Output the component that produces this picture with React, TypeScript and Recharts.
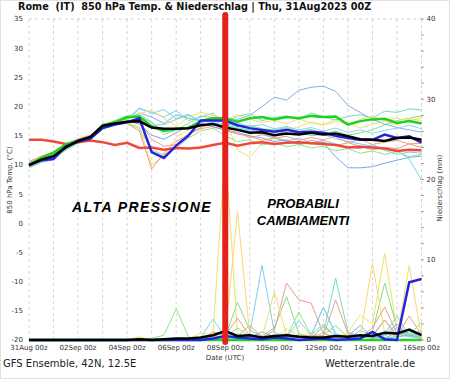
import { LineChart, Line, XAxis, YAxis, CartesianGrid, ReferenceLine } from "recharts";

// forecast hours, every 12h from 31Aug 00z
const HOURS = [0, 12, 24, 36, 48, 60, 72, 84, 96, 108, 120, 132, 144, 156, 168, 180, 192, 204, 216, 228, 240, 252, 264, 276, 288, 300, 312, 324, 336, 348, 360, 372, 384];
const DAY_TICKS = [0, 24, 48, 72, 96, 120, 144, 168, 192, 216, 240, 264, 288, 312, 336, 360, 384];
const DAY_LABELS = ["31Aug 00z", "", "02Sep 00z", "", "04Sep 00z", "", "06Sep 00z", "", "08Sep 00z", "", "10Sep 00z", "", "12Sep 00z", "", "14Sep 00z", "", "16Sep 00z"];
const TEMP_TICKS = [-20, -15, -10, -5, 0, 5, 10, 15, 20, 25, 30, 35];
const PREC_TICKS = [0, 2, 4, 6, 8, 10, 12, 14, 16, 18, 20, 22, 24, 26, 28, 30, 32, 34, 36, 38, 40];

// thick lines: 850 hPa temperature
const tMean = [9.9, 10.9, 11.5, 13.0, 14.1, 14.8, 16.7, 17.1, 17.4, 17.5, 16.4, 16.2, 16.2, 16.3, 16.8, 17.0, 16.4, 16.0, 15.5, 15.6, 15.1, 15.4, 15.2, 15.5, 15.2, 15.4, 14.9, 14.4, 14.3, 14.1, 14.6, 14.7, 14.3];
const tControl = [10.0, 11.2, 12.1, 13.5, 14.2, 14.7, 16.8, 17.3, 18.2, 18.3, 16.6, 15.8, 16.2, 16.3, 17.5, 18.0, 18.0, 17.4, 18.0, 18.2, 17.8, 18.2, 18.0, 18.4, 18.2, 18.3, 16.9, 17.5, 17.8, 17.9, 17.2, 17.5, 17.1];
const tOper = [10.0, 10.8, 11.0, 13.2, 14.0, 14.5, 16.3, 16.9, 17.3, 18.0, 12.2, 11.2, 13.3, 15.0, 17.6, 17.6, 17.6, 16.8, 16.3, 16.0, 15.7, 16.0, 15.6, 15.7, 15.5, 15.0, 14.6, 14.3, 14.3, 15.2, 14.6, 14.9, 13.8];
const tClim = [14.3, 14.3, 14.0, 13.6, 13.9, 14.2, 13.9, 13.4, 13.8, 12.9, 13.0, 12.6, 12.9, 12.8, 13.0, 13.4, 13.8, 13.3, 13.7, 13.9, 13.6, 13.8, 13.9, 13.7, 13.6, 13.4, 13.0, 13.1, 13.0, 12.8, 12.4, 12.6, 12.5];

// ensemble members: temperature
const tM1 = [9.5, 10.4, 10.9, 12.6, 13.8, 14.5, 16.2, 16.8, 17.6, 19.6, 19.0, 18.2, 19.3, 17.6, 18.2, 18.9, 17.0, 16.2, 15.8, 15.2, 14.8, 14.1, 14.6, 13.8, 14.2, 13.6, 13.0, 12.8, 13.5, 12.5, 11.8, 12.2, 12.0];
const tM2 = [10.2, 11.0, 12.0, 13.4, 14.3, 14.9, 16.9, 17.4, 18.0, 18.6, 17.4, 15.2, 16.0, 17.1, 18.4, 18.0, 17.2, 16.5, 16.8, 16.2, 16.0, 16.4, 15.7, 16.1, 15.3, 15.8, 15.1, 15.5, 16.0, 16.9, 17.6, 18.0, 18.4];
const tM3 = [10.1, 10.8, 11.6, 12.8, 14.0, 14.6, 16.4, 17.0, 17.2, 16.5, 10.0, 11.5, 14.8, 16.0, 17.5, 18.6, 17.8, 12.5, 11.4, 13.6, 14.7, 15.8, 16.6, 17.3, 16.9, 17.8, 17.2, 16.3, 17.0, 17.5, 16.8, 17.9, 17.6];
const tM4 = [10.4, 11.3, 11.8, 13.1, 14.2, 14.7, 16.5, 17.0, 17.1, 15.8, 9.3, 12.0, 14.0, 15.2, 16.2, 16.6, 15.9, 15.3, 14.9, 14.2, 14.6, 14.0, 13.6, 14.2, 13.9, 13.3, 13.8, 13.2, 12.6, 13.0, 12.8, 13.6, 13.0];
const tM5 = [9.8, 10.7, 11.3, 12.9, 14.0, 14.6, 16.6, 17.2, 17.8, 18.9, 18.2, 17.1, 18.6, 18.0, 17.5, 17.9, 17.2, 17.8, 18.5, 20.0, 21.6, 21.1, 22.8, 23.3, 23.5, 22.6, 20.2, 19.0, 17.8, 17.0, 16.4, 16.0, 15.6];
const tM6 = [10.0, 10.9, 11.4, 12.9, 14.1, 14.9, 16.8, 17.3, 17.5, 17.0, 15.1, 14.4, 15.5, 16.6, 17.2, 16.5, 16.0, 15.5, 15.0, 14.6, 14.0, 14.3, 13.5, 13.8, 13.8, 11.4, 9.5, 9.5, 9.7, 10.3, 10.8, 11.3, 11.5];
const tM7 = [9.7, 10.6, 11.2, 12.7, 13.9, 14.7, 16.5, 17.1, 17.9, 19.8, 18.8, 19.5, 17.9, 18.7, 17.3, 17.6, 16.8, 16.3, 16.0, 15.6, 15.9, 15.3, 15.6, 15.0, 15.2, 14.5, 14.0, 13.6, 13.2, 12.8, 12.5, 11.0, 7.4];
const tM8 = [10.3, 11.2, 11.9, 13.3, 14.4, 15.0, 16.7, 17.6, 18.4, 18.0, 16.8, 16.9, 17.8, 18.5, 17.6, 17.9, 17.4, 18.3, 18.8, 17.6, 18.1, 18.4, 17.8, 18.9, 18.2, 17.7, 18.3, 18.6, 18.0, 19.2, 19.0, 19.6, 19.4];
const tM9 = [10.6, 11.5, 12.2, 13.5, 14.5, 15.1, 16.6, 16.9, 17.5, 17.3, 14.4, 13.2, 13.5, 15.4, 16.4, 17.2, 15.8, 15.6, 14.6, 15.2, 14.6, 14.9, 14.2, 14.7, 14.3, 14.9, 13.8, 14.4, 13.5, 13.9, 14.2, 13.6, 13.7];
const tM10 = [10.0, 10.9, 11.6, 13.0, 14.0, 14.7, 16.8, 17.3, 17.7, 18.8, 19.4, 18.0, 16.6, 18.2, 19.0, 18.5, 17.6, 18.6, 17.8, 17.3, 17.6, 17.0, 17.9, 17.2, 16.8, 17.4, 17.0, 17.8, 18.3, 17.6, 18.0, 17.5, 18.1];
const tM11 = [9.6, 10.5, 11.1, 12.5, 13.7, 14.3, 16.1, 16.9, 17.2, 16.2, 12.6, 11.7, 12.8, 14.6, 15.8, 16.3, 15.0, 14.0, 14.3, 13.4, 13.8, 13.1, 13.5, 12.9, 13.2, 12.4, 12.8, 12.0, 12.4, 11.8, 12.3, 11.4, 11.8];
const tM12 = [10.2, 11.1, 11.8, 13.2, 14.2, 14.8, 16.6, 17.4, 17.9, 18.3, 17.2, 15.8, 15.9, 16.5, 17.6, 17.2, 16.9, 17.2, 16.6, 16.9, 16.2, 16.6, 16.0, 16.4, 15.8, 16.3, 15.6, 16.0, 15.4, 15.9, 16.3, 16.8, 16.2];

// precipitation (mm)
const pMean = [0, 0, 0, 0, 0, 0, 0, 0, 0, 0.1, 0, 0.1, 0.2, 0.2, 0.3, 0.6, 1.1, 0.5, 0.6, 0.3, 0.5, 0.6, 0.4, 0.3, 0.3, 0.5, 0.4, 0.6, 0.5, 0.9, 0.8, 1.3, 0.6];
const pControl = [0, 0, 0, 0, 0, 0, 0, 0, 0, 0, 0, 0, 0, 0, 0, 0, 0, 0, 0, 0, 0, 0, 0, 0, 0, 0, 0, 0, 0, 0, 0, 0, 0];
const pOper = [0, 0, 0, 0, 0, 0, 0, 0, 0, 0, 0, 0, 0, 0, 0, 0.2, 0.5, 0.3, 0.2, 0.1, 0.3, 0.2, 0, 0.1, 0.2, 0, 0.1, 0.2, 1.0, 0.1, 0, 7.2, 7.6];
const pM1 = [0, 0, 0, 0, 0, 0, 0, 0, 0, 0, 0, 0, 0, 0, 0, 0.5, 0.3, 0.2, 0.8, 9.3, 1.0, 0.2, 0.4, 0.6, 0.2, 0.3, 0.1, 1.2, 0.5, 0.3, 0.8, 0.4, 0.2];
const pM2 = [0, 0, 0, 0, 0, 0, 0, 0, 0, 0, 0, 0, 0, 0, 0, 0.2, 0.4, 4.7, 1.2, 0.5, 1.5, 5.4, 0.8, 0.3, 0.6, 1.8, 0.4, 0.2, 1.0, 7.1, 1.5, 0.6, 2.2];
const pM3 = [0, 0, 0, 0, 0, 0, 0, 0, 0, 0.4, 0, 0, 0, 0, 0.9, 0.6, 24, 0.8, 0.3, 0.5, 0.2, 1.4, 0.6, 0.3, 0.4, 0.2, 1.0, 3.1, 2.0, 10.8, 1.2, 0.6, 0.4];
const pM4 = [0, 0, 0, 0, 0, 0, 0, 0, 0, 0, 0, 0, 0, 0, 0, 1.0, 0.6, 2.7, 0.5, 0.3, 1.2, 7.1, 5.0, 4.6, 0.8, 0.4, 0.6, 0.3, 1.5, 4.1, 0.8, 0.5, 0.3];
const pM5 = [0, 0, 0, 0, 0, 0, 0, 0, 0, 0, 0, 0, 0, 0, 0, 0.3, 0.5, 0.2, 0.3, 1.0, 0.4, 0.3, 0.6, 0.2, 1.7, 0.5, 0.3, 0.4, 0.2, 0.6, 2.0, 0.5, 0.8];
const pM6 = [0, 0, 0, 0, 0, 0, 0, 0, 0, 0, 0, 0, 0, 0, 0, 0.1, 0.2, 0.4, 0.1, 0.3, 0.6, 0.2, 0.4, 0.1, 0.3, 0.2, 0.5, 1.8, 0.3, 0.2, 0.4, 0.6, 0.3];
const pM7 = [0, 0, 0, 0, 0, 0, 0, 0, 0, 0, 0, 0, 0, 0, 0.3, 2.6, 0.4, 0.2, 0.6, 0.3, 0.5, 0.3, 2.4, 0.6, 4.1, 0.8, 0.3, 0.5, 0.4, 2.5, 0.6, 1.0, 0.5];
const pM8 = [0, 0, 0, 0, 0, 0, 0, 0, 0, 0, 0, 0, 0, 0, 0, 0.2, 0.3, 1.5, 0.4, 0.2, 0.6, 0.3, 0.5, 0.2, 0.9, 7.7, 1.0, 0.4, 0.6, 0.8, 3.0, 0.5, 1.2];
const pM9 = [0, 0, 0, 0, 0, 0, 0, 0, 0, 0, 0, 0, 0, 0, 0, 0.3, 0.2, 0.5, 1.8, 0.4, 0.3, 0.8, 0.4, 0.6, 0.5, 5.0, 0.8, 0.3, 0.6, 2.5, 0.4, 3.0, 0.6];
const pM10 = [0, 0, 0, 0, 0, 0, 0, 0, 0, 0, 0, 0, 0, 0, 0.2, 0.4, 0.6, 16, 0.5, 0.3, 6.0, 0.6, 0.4, 1.0, 0.3, 0.5, 0.6, 0.4, 9.6, 0.8, 0.5, 9.3, 0.4];
const pM11 = [0, 0, 0, 0, 0, 0, 0, 0, 0, 0, 0.2, 0.6, 3.9, 0.4, 0.1, 0.3, 0.2, 0.4, 0.6, 0.3, 0.5, 0.4, 3.5, 0.6, 2.0, 0.4, 0.3, 0.6, 0.5, 0.3, 0.4, 0.8, 0.3];
const pM12 = [0, 0, 0, 0, 0, 0, 0, 0, 0, 0, 0, 0, 0, 0, 0, 0.4, 1.0, 0.3, 0.5, 0.2, 0.4, 0.6, 0.3, 0.5, 4.1, 0.6, 0.3, 0.4, 0.8, 0.5, 1.5, 0.4, 0.6];

const MEMBERS = [
  { id: "m1", color: "#7ccfef", t: tM1, p: pM1 },
  { id: "m2", color: "#7fe07f", t: tM2, p: pM2 },
  { id: "m3", color: "#f2e06a", t: tM3, p: pM3 },
  { id: "m4", color: "#f09a80", t: tM4, p: pM4 },
  { id: "m5", color: "#86aee8", t: tM5, p: pM5 },
  { id: "m6", color: "#7fa6e6", t: tM6, p: pM6 },
  { id: "m7", color: "#76d6f0", t: tM7, p: pM7 },
  { id: "m8", color: "#78dcb4", t: tM8, p: pM8 },
  { id: "m9", color: "#eea08c", t: tM9, p: pM9 },
  { id: "m10", color: "#f4dc70", t: tM10, p: pM10 },
  { id: "m11", color: "#92e28e", t: tM11, p: pM11 },
  { id: "m12", color: "#8ad4f2", t: tM12, p: pM12 },
];

const data = HOURS.map((h, i) => {
  const row: any = {
    h,
    tMean: tMean[i], tControl: tControl[i], tOper: tOper[i], tClim: tClim[i],
    pMean: pMean[i], pControl: pControl[i], pOper: pOper[i],
  };
  MEMBERS.forEach((m) => {
    row["t_" + m.id] = m.t[i];
    row["p_" + m.id] = m.p[i];
  });
  return row;
});

const tickStyle = { fontSize: 7, fill: "#333", fontFamily: "DejaVu Sans" };

function RedMarker(props: any) {
  const top = Math.min(props.y1, props.y2) - 4;
  const bottom = Math.max(props.y1, props.y2) + 2;
  return <line x1={props.x1} x2={props.x2} y1={top} y2={bottom} stroke="#e3231b" strokeWidth={6} strokeLinecap="round" />;
}

export default function App() {
  return (
    <div style={{ position: "absolute", left: 0, top: 0, width: 448, height: 377, border: "1px solid #e2e2e2", background: "#fff", fontFamily: "DejaVu Sans", overflow: "hidden" }}>
      <div style={{ position: "absolute", left: -1, top: -1 }}>
        <LineChart width={450} height={379} data={data} margin={{ top: 19, right: 0, bottom: 0, left: 0 }}>
          <CartesianGrid strokeDasharray="3 3" stroke="#d4d4d4" />
          <XAxis
            dataKey="h" type="number" domain={[0, 384]} ticks={DAY_TICKS} height={39}
            tickFormatter={(v: number) => DAY_LABELS[DAY_TICKS.indexOf(v)]}
            tick={tickStyle} tickLine={false} axisLine={false} tickSize={0} tickMargin={5} interval={0}
          />
          <YAxis yAxisId="t" domain={[-20, 35]} ticks={TEMP_TICKS} width={29} tick={tickStyle} tickLine={false} axisLine={false} tickSize={0} tickMargin={6} interval={0} />
          <YAxis
            yAxisId="p" orientation="right" domain={[0, 40]} ticks={PREC_TICKS} width={28.5}
            tickFormatter={(v: number) => (v % 10 === 0 ? String(v) : "")}
            tick={tickStyle} tickLine={{ stroke: "#777" }} axisLine={false} tickSize={2} tickMargin={3} interval={0}
          />

          {MEMBERS.map((m) => (
            <Line key={"t" + m.id} yAxisId="t" dataKey={"t_" + m.id} stroke={m.color} strokeWidth={1} dot={false} isAnimationActive={false} />
          ))}
          {MEMBERS.map((m) => (
            <Line key={"p" + m.id} yAxisId="p" dataKey={"p_" + m.id} stroke={m.color} strokeWidth={1} dot={false} isAnimationActive={false} />
          ))}

          <Line yAxisId="t" dataKey="tClim" stroke="#ee4a3a" strokeWidth={2.5} dot={false} isAnimationActive={false} />
          <Line yAxisId="t" dataKey="tControl" stroke="#1fd21f" strokeWidth={2.5} dot={false} isAnimationActive={false} />
          <Line yAxisId="t" dataKey="tOper" stroke="#2424e0" strokeWidth={2.5} dot={false} isAnimationActive={false} />
          <Line yAxisId="t" dataKey="tMean" stroke="#000" strokeWidth={2.5} dot={false} isAnimationActive={false} />
          <Line yAxisId="p" dataKey="pControl" stroke="#1fd21f" strokeWidth={2.5} dot={false} isAnimationActive={false} />
          <Line yAxisId="p" dataKey="pOper" stroke="#2424e0" strokeWidth={2.5} dot={false} isAnimationActive={false} />
          <Line yAxisId="p" dataKey="pMean" stroke="#000" strokeWidth={2.5} dot={false} isAnimationActive={false} />

          <ReferenceLine yAxisId="t" x={192} shape={RedMarker} />
        </LineChart>
      </div>

      <div style={{ position: "absolute", left: 17, top: 0, fontSize: 9.7, fontWeight: "bold", color: "#111", whiteSpace: "pre" }}>
        {"Rome  (IT)  850 hPa Temp. & Niederschlag | Thu, 31Aug2023 00Z"}
      </div>
      <div style={{ position: "absolute", left: 9, top: 179, fontSize: 7, color: "#333", whiteSpace: "nowrap", transform: "translate(-50%, -50%) rotate(-90deg)" }}>
        850 hPa Temp. (°C)
      </div>
      <div style={{ position: "absolute", left: 439, top: 187, fontSize: 7, color: "#333", whiteSpace: "nowrap", transform: "translate(-50%, -50%) rotate(-90deg)" }}>
        Niederschlag (mm)
      </div>
      <div style={{ position: "absolute", left: 224, top: 357, fontSize: 7, color: "#333", whiteSpace: "nowrap", transform: "translate(-50%, -50%)" }}>
        Date (UTC)
      </div>
      <div style={{ position: "absolute", left: 2, top: 357, fontSize: 10, color: "#222", whiteSpace: "nowrap" }}>
        GFS Ensemble, 42N, 12.5E
      </div>
      <div style={{ position: "absolute", left: 324, top: 357, fontSize: 10, color: "#222", whiteSpace: "nowrap" }}>
        Wetterzentrale.de
      </div>
      <div style={{ position: "absolute", left: 141, top: 206, fontSize: 14, fontWeight: "bold", fontStyle: "italic", fontFamily: "Liberation Sans", letterSpacing: 1.4, color: "#000", whiteSpace: "nowrap", transform: "translate(-50%, -50%)" }}>
        ALTA PRESSIONE
      </div>
      <div style={{ position: "absolute", left: 302, top: 211, fontSize: 13, fontWeight: "bold", fontStyle: "italic", fontFamily: "Liberation Sans", color: "#000", whiteSpace: "nowrap", textAlign: "center", lineHeight: "17px", transform: "translate(-50%, -50%)" }}>
        PROBABILI
        <br />
        CAMBIAMENTI
      </div>
    </div>
  );
}
